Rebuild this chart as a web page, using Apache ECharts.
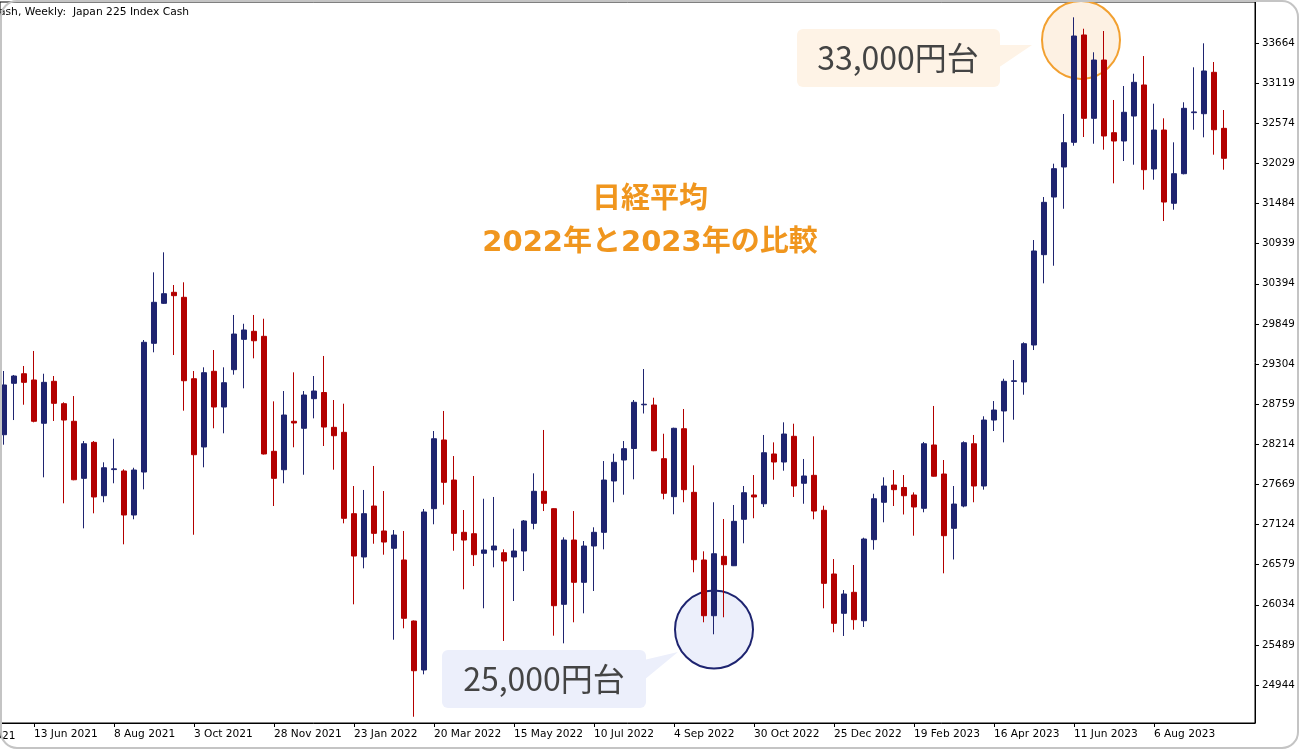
<!DOCTYPE html>
<html><head><meta charset="utf-8">
<script src="https://cdn.jsdelivr.net/npm/echarts@6/dist/echarts.min.js"></script>
<style>html,body{margin:0;padding:0;background:#fff}#c{width:1300px;height:750px}</style>
</head><body><div id="c"></div><script>
// Weekly candles, first bar = week of 23 May 2021
const opens = [28344,29042,29172,29087,28499,29069,28765,28526,27751,28240,
27515,27870,27851,27253,27837,29585,30128,30278,30210,29104,
28177,29205,28720,29227,29639,29748,29680,28118,27868,28526,
28431,28833,28917,28444,28376,27271,26683,27375,27036,26801,
26642,25813,25148,27339,28272,27728,27018,26999,26733,26778,
26741,26683,26764,27140,27575,27339,26040,26913,26339,26832,
27018,27715,28000,28156,28750,28747,28018,27502,28425,27561,
26642,25885,26692,26564,27195,27525,27406,28082,27973,28322,
27684,27792,27317,26452,25918,26203,25817,26918,27426,27660,
27627,27525,27344,28204,27810,27072,27375,28221,27647,28543,
28666,29068,29060,29562,30789,31572,31980,32315,33773,32641,
33433,32446,32333,32672,33094,31953,32482,31487,31889,32718,
32704,33266,32505];
const closes = [29019,29141,29055,28526,29055,28770,28543,27732,28221,27498,
27895,27880,27253,27864,29599,30142,30259,30232,29077,28072,
29186,28720,29050,29711,29766,29620,28082,27751,28611,28503,
28883,28937,28448,28330,27208,26696,27271,27004,26886,26981,
25850,25138,27294,28289,27697,27004,26913,26714,26778,26832,
26628,26764,27172,27575,27412,26021,26913,26339,26832,27018,
27728,27969,28154,28784,28758,28126,27548,28431,27597,26646,
25885,26727,26578,27167,27556,27498,28099,27973,28353,27647,
27783,27307,26325,25782,26180,25831,26927,27474,27647,27597,
27515,27362,28221,27780,26972,27402,28235,27647,28543,28679,
29069,29076,29580,30839,31500,31957,32310,33759,32641,33433,
32401,32333,32723,33130,31943,32482,31504,31889,32777,32728,
33284,32486,32098];
const lows = [28208,28543,28751,28512,27765,28530,27412,27725,27072,27276,
27426,27684,26855,27195,27602,29463,30120,29426,28670,26985,
27901,28431,28363,29159,28974,29381,28075,27375,27684,28173,
27800,28566,28190,27868,27140,26040,26529,26863,26714,25559,
25714,24513,25089,27127,27393,26768,26244,26560,25986,26543,
25542,26085,26492,27059,27307,25614,25510,25796,25918,26221,
26787,27426,27529,27738,28632,28120,27466,27263,27426,26475,
25796,25633,25864,26560,26869,27209,27362,27732,27855,27498,
27406,27195,25986,25660,25610,25695,25732,26782,27154,27375,
27260,26972,27290,27775,26461,26649,27358,27426,27597,28394,
28240,28547,28887,29494,30400,30639,31413,32269,32387,32296,
32215,31758,32061,32011,31671,31807,31246,31400,31880,32486,
32383,32147,31943];
const highs = [29209,29155,29277,29481,29172,29141,28784,28869,28258,28258,
27969,28289,27874,27895,29630,30549,30821,30377,30414,29209,
29259,29494,29259,29970,29851,29970,29919,28797,28937,29191,
28937,29141,29413,28815,28765,27647,27593,27919,27579,27049,
27036,25820,27335,28394,28666,28054,27321,27783,27474,27498,
26787,27067,27185,27819,28408,27344,26950,27307,26900,27086,
27986,28086,28258,28815,29236,28846,28357,28439,28693,27928,
26760,27426,27199,27389,27647,27796,28340,28240,28512,28493,
28014,28322,27379,26655,26234,26574,26945,27542,27765,27864,
27796,27561,28245,28734,28000,27647,28254,28340,28594,28801,
29104,29358,29599,30988,31572,32025,32700,34013,33858,33538,
33827,32890,33080,33247,33487,32840,32641,32315,32859,33334,
33660,33406,32754];

// x tick labels (week index -> label)
const tickWeeks = [3,11,19,27,35,43,51,59,67,75,83,91,99,107,115];
const tickLabels = ['13 Jun 2021','8 Aug 2021','3 Oct 2021','28 Nov 2021','23 Jan 2022','20 Mar 2022','15 May 2022','10 Jul 2022','4 Sep 2022','30 Oct 2022','25 Dec 2022','19 Feb 2023','16 Apr 2023','11 Jun 2023','6 Aug 2023'];
const hiddenLabel = '18 Apr 2021';
// y tick labels
const yTicks = [24944,25489,26034,26579,27124,27669,28214,28759,29304,29849,30394,30939,31484,32029,32574,33119,33664];
const yMin = 24428, yMax = 34221;

const titleLine1 = '日経平均';
const titleLine2 = '2022年と2023年の比較';
const calloutHigh = '33,000円台';
const calloutLow = '25,000円台';
const headerText = 'ash, Weekly:  Japan 225 Index Cash';

const UP = '#1f2470', DOWN = '#b30000';
const AXIS_FONT = 10.6;
const chart = echarts.init(document.getElementById('c'), null, {renderer: 'canvas'});
const candles = opens.map((o, i) => [i, o, closes[i], lows[i], highs[i]]);

chart.setOption({
  animation: false,
  grid: {left: 0, top: 2, right: 45, bottom: 27, show: true, borderColor: '#000', borderWidth: 1},
  xAxis: {
    type: 'value', min: -0.4, max: 125.1,
    axisLine: {show: true, onZero: false, lineStyle: {color: '#000', width: 1}},
    axisTick: {show: true, length: 4, customValues: tickWeeks, lineStyle: {color: '#000'}},
    axisLabel: {customValues: tickWeeks, formatter: v => tickLabels[tickWeeks.indexOf(v)] || '',
      align: 'left', margin: 6, color: '#000', fontFamily: 'DejaVu Sans', fontSize: AXIS_FONT},
    splitLine: {show: false}
  },
  yAxis: {
    type: 'value', position: 'right', min: yMin, max: yMax, scale: true,
    axisLine: {show: true, onZero: false, lineStyle: {color: '#000', width: 1}},
    axisTick: {show: true, length: 4, customValues: yTicks, lineStyle: {color: '#000'}},
    axisLabel: {customValues: yTicks, formatter: v => String(v), margin: 7, color: '#000',
      fontFamily: 'DejaVu Sans', fontSize: 10.3},
    splitLine: {show: false}
  },
  series: [{
    type: 'candlestick', data: candles, encode: {x: 0, y: [1, 2, 3, 4]},
    barWidth: 5, z: 5,
    itemStyle: {color: UP, color0: DOWN, borderColor: UP, borderColor0: DOWN, borderWidth: 1}
  }],
  graphic: [
    {type: 'circle', z: 1, shape: {cx: 1081, cy: 40, r: 39}, style: {fill: '#fdf1e3', stroke: '#f2a030', lineWidth: 2}},
    {type: 'circle', z: 1, shape: {cx: 714, cy: 629.5, r: 39}, style: {fill: '#eceffb', stroke: '#1e2470', lineWidth: 2}},
    {type: 'rect', z: 1, shape: {x: 797, y: 29, width: 203, height: 58, r: 6}, style: {fill: '#fef3e6'}},
    {type: 'polygon', z: 1, shape: {points: [[998, 45], [1032, 45], [998, 68]]}, style: {fill: '#fef3e6'}},
    {type: 'text', z: 50, x: 898, y: 58, style: {text: calloutHigh, align: 'center', verticalAlign: 'middle',
      fontFamily: 'Noto Sans CJK JP', fontSize: 32, fill: '#444'}},
    {type: 'rect', z: 1, shape: {x: 442, y: 650, width: 204, height: 58, r: 6}, style: {fill: '#eceffb'}},
    {type: 'polygon', z: 1, shape: {points: [[644, 660], [678, 652], [644, 680]]}, style: {fill: '#eceffb'}},
    {type: 'text', z: 50, x: 544, y: 679, style: {text: calloutLow, align: 'center', verticalAlign: 'middle',
      fontFamily: 'Noto Sans CJK JP', fontSize: 32, fill: '#444'}},
    {type: 'text', z: 50, x: 650, y: 200, style: {text: titleLine1, align: 'center', verticalAlign: 'middle',
      fontFamily: '"DejaVu Sans", "Noto Sans CJK JP"', fontWeight: 'bold', fontSize: 29, fill: '#f0961e'}},
    {type: 'text', z: 50, x: 650, y: 243, style: {text: titleLine2, align: 'center', verticalAlign: 'middle',
      fontFamily: '"DejaVu Sans", "Noto Sans CJK JP"', fontWeight: 'bold', fontSize: 29, fill: '#f0961e'}},
    {type: 'text', z: 50, x: -1, y: 12, style: {text: headerText, align: 'left', verticalAlign: 'middle',
      fontFamily: 'DejaVu Sans', fontSize: 10.7, fill: '#000'}},
    {type: 'text', z: 50, x: -50, y: 736, style: {text: hiddenLabel, align: 'left', verticalAlign: 'middle',
      fontFamily: 'DejaVu Sans', fontSize: AXIS_FONT, fill: '#000'}},
    {type: 'rect', z: 100, shape: {x: 1, y: 1, width: 1297, height: 747, r: 16}, style: {fill: 'none', stroke: '#c4c4c4', lineWidth: 2}}
  ]
});
</script></body></html>
